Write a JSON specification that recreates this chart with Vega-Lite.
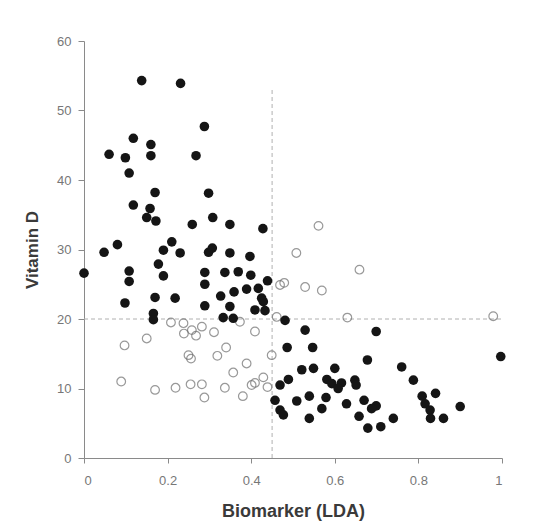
{
  "$schema": "https://vega.github.io/schema/vega-lite/v6.json",
  "autosize": "none",
  "width": 418,
  "height": 417,
  "padding": {"left": 84, "top": 41, "right": 40, "bottom": 65},
  "background": "white",
  "config": {
    "view": {"stroke": null},
    "font": "Liberation Sans",
    "axis": {
      "grid": false,
      "domainColor": "#8a8a8a",
      "tickColor": "#8a8a8a",
      "labelColor": "#777777",
      "labelFont": "Liberation Sans",
      "labelFontSize": 13,
      "titleFont": "Liberation Sans",
      "titleFontWeight": "bold",
      "titleColor": "#3a3a3a"
    }
  },
  "datasets": {
    "pts": [
      {"lda": 0.138, "vitd": 54.3, "group": "filled"},
      {"lda": 0.231, "vitd": 53.9, "group": "filled"},
      {"lda": 0.288, "vitd": 47.7, "group": "filled"},
      {"lda": 0.118, "vitd": 46.0, "group": "filled"},
      {"lda": 0.160, "vitd": 45.1, "group": "filled"},
      {"lda": 0.160, "vitd": 43.5, "group": "filled"},
      {"lda": 0.060, "vitd": 43.7, "group": "filled"},
      {"lda": 0.099, "vitd": 43.2, "group": "filled"},
      {"lda": 0.268, "vitd": 43.5, "group": "filled"},
      {"lda": 0.108, "vitd": 41.0, "group": "filled"},
      {"lda": 0.170, "vitd": 38.2, "group": "filled"},
      {"lda": 0.298, "vitd": 38.1, "group": "filled"},
      {"lda": 0.118, "vitd": 36.4, "group": "filled"},
      {"lda": 0.158, "vitd": 35.9, "group": "filled"},
      {"lda": 0.150, "vitd": 34.6, "group": "filled"},
      {"lda": 0.172, "vitd": 34.1, "group": "filled"},
      {"lda": 0.308, "vitd": 34.6, "group": "filled"},
      {"lda": 0.259, "vitd": 33.6, "group": "filled"},
      {"lda": 0.349, "vitd": 33.6, "group": "filled"},
      {"lda": 0.428, "vitd": 33.0, "group": "filled"},
      {"lda": 0.048, "vitd": 29.6, "group": "filled"},
      {"lda": 0.080, "vitd": 30.7, "group": "filled"},
      {"lda": 0.190, "vitd": 29.9, "group": "filled"},
      {"lda": 0.210, "vitd": 31.1, "group": "filled"},
      {"lda": 0.230, "vitd": 29.5, "group": "filled"},
      {"lda": 0.298, "vitd": 29.6, "group": "filled"},
      {"lda": 0.307, "vitd": 30.2, "group": "filled"},
      {"lda": 0.349, "vitd": 29.5, "group": "filled"},
      {"lda": 0.397, "vitd": 29.0, "group": "filled"},
      {"lda": 0.000, "vitd": 26.6, "group": "filled"},
      {"lda": 0.108, "vitd": 26.9, "group": "filled"},
      {"lda": 0.108, "vitd": 25.4, "group": "filled"},
      {"lda": 0.178, "vitd": 27.9, "group": "filled"},
      {"lda": 0.190, "vitd": 26.2, "group": "filled"},
      {"lda": 0.289, "vitd": 26.7, "group": "filled"},
      {"lda": 0.289, "vitd": 25.0, "group": "filled"},
      {"lda": 0.337, "vitd": 26.7, "group": "filled"},
      {"lda": 0.369, "vitd": 26.8, "group": "filled"},
      {"lda": 0.399, "vitd": 26.3, "group": "filled"},
      {"lda": 0.439, "vitd": 25.5, "group": "filled"},
      {"lda": 0.389, "vitd": 24.3, "group": "filled"},
      {"lda": 0.417, "vitd": 24.4, "group": "filled"},
      {"lda": 0.359, "vitd": 23.9, "group": "filled"},
      {"lda": 0.327, "vitd": 23.3, "group": "filled"},
      {"lda": 0.425, "vitd": 23.0, "group": "filled"},
      {"lda": 0.429, "vitd": 22.5, "group": "filled"},
      {"lda": 0.098, "vitd": 22.3, "group": "filled"},
      {"lda": 0.170, "vitd": 23.1, "group": "filled"},
      {"lda": 0.218, "vitd": 23.0, "group": "filled"},
      {"lda": 0.289, "vitd": 21.9, "group": "filled"},
      {"lda": 0.349, "vitd": 21.8, "group": "filled"},
      {"lda": 0.409, "vitd": 21.3, "group": "filled"},
      {"lda": 0.433, "vitd": 21.2, "group": "filled"},
      {"lda": 0.333, "vitd": 20.2, "group": "filled"},
      {"lda": 0.357, "vitd": 20.1, "group": "filled"},
      {"lda": 0.166, "vitd": 20.8, "group": "filled"},
      {"lda": 0.166, "vitd": 19.9, "group": "filled"},
      {"lda": 0.481, "vitd": 19.8, "group": "filled"},
      {"lda": 0.529, "vitd": 18.4, "group": "filled"},
      {"lda": 0.699, "vitd": 18.2, "group": "filled"},
      {"lda": 0.486, "vitd": 15.9, "group": "filled"},
      {"lda": 0.547, "vitd": 15.9, "group": "filled"},
      {"lda": 0.997, "vitd": 14.6, "group": "filled"},
      {"lda": 0.678, "vitd": 14.1, "group": "filled"},
      {"lda": 0.760, "vitd": 13.1, "group": "filled"},
      {"lda": 0.788, "vitd": 11.2, "group": "filled"},
      {"lda": 0.521, "vitd": 12.7, "group": "filled"},
      {"lda": 0.549, "vitd": 12.9, "group": "filled"},
      {"lda": 0.600, "vitd": 12.9, "group": "filled"},
      {"lda": 0.489, "vitd": 11.3, "group": "filled"},
      {"lda": 0.469, "vitd": 10.5, "group": "filled"},
      {"lda": 0.581, "vitd": 11.3, "group": "filled"},
      {"lda": 0.593, "vitd": 10.7, "group": "filled"},
      {"lda": 0.616, "vitd": 10.8, "group": "filled"},
      {"lda": 0.608, "vitd": 10.0, "group": "filled"},
      {"lda": 0.648, "vitd": 11.2, "group": "filled"},
      {"lda": 0.651, "vitd": 10.5, "group": "filled"},
      {"lda": 0.457, "vitd": 8.3, "group": "filled"},
      {"lda": 0.509, "vitd": 8.2, "group": "filled"},
      {"lda": 0.539, "vitd": 8.9, "group": "filled"},
      {"lda": 0.579, "vitd": 8.7, "group": "filled"},
      {"lda": 0.628, "vitd": 7.8, "group": "filled"},
      {"lda": 0.670, "vitd": 8.3, "group": "filled"},
      {"lda": 0.699, "vitd": 7.5, "group": "filled"},
      {"lda": 0.688, "vitd": 7.1, "group": "filled"},
      {"lda": 0.658, "vitd": 6.0, "group": "filled"},
      {"lda": 0.740, "vitd": 5.7, "group": "filled"},
      {"lda": 0.679, "vitd": 4.3, "group": "filled"},
      {"lda": 0.710, "vitd": 4.5, "group": "filled"},
      {"lda": 0.539, "vitd": 5.7, "group": "filled"},
      {"lda": 0.469, "vitd": 6.9, "group": "filled"},
      {"lda": 0.477, "vitd": 6.2, "group": "filled"},
      {"lda": 0.569, "vitd": 7.1, "group": "filled"},
      {"lda": 0.809, "vitd": 8.9, "group": "filled"},
      {"lda": 0.841, "vitd": 9.3, "group": "filled"},
      {"lda": 0.816, "vitd": 7.8, "group": "filled"},
      {"lda": 0.828, "vitd": 6.9, "group": "filled"},
      {"lda": 0.829, "vitd": 5.7, "group": "filled"},
      {"lda": 0.860, "vitd": 5.7, "group": "filled"},
      {"lda": 0.900, "vitd": 7.4, "group": "filled"},
      {"lda": 0.561, "vitd": 33.4, "group": "open"},
      {"lda": 0.508, "vitd": 29.5, "group": "open"},
      {"lda": 0.659, "vitd": 27.1, "group": "open"},
      {"lda": 0.529, "vitd": 24.6, "group": "open"},
      {"lda": 0.569, "vitd": 24.1, "group": "open"},
      {"lda": 0.630, "vitd": 20.2, "group": "open"},
      {"lda": 0.979, "vitd": 20.4, "group": "open"},
      {"lda": 0.469, "vitd": 24.9, "group": "open"},
      {"lda": 0.479, "vitd": 25.2, "group": "open"},
      {"lda": 0.461, "vitd": 20.3, "group": "open"},
      {"lda": 0.373, "vitd": 19.6, "group": "open"},
      {"lda": 0.409, "vitd": 18.2, "group": "open"},
      {"lda": 0.449, "vitd": 14.8, "group": "open"},
      {"lda": 0.208, "vitd": 19.5, "group": "open"},
      {"lda": 0.238, "vitd": 19.4, "group": "open"},
      {"lda": 0.258, "vitd": 18.4, "group": "open"},
      {"lda": 0.282, "vitd": 18.9, "group": "open"},
      {"lda": 0.239, "vitd": 17.9, "group": "open"},
      {"lda": 0.268, "vitd": 17.6, "group": "open"},
      {"lda": 0.311, "vitd": 18.1, "group": "open"},
      {"lda": 0.150, "vitd": 17.2, "group": "open"},
      {"lda": 0.097, "vitd": 16.2, "group": "open"},
      {"lda": 0.250, "vitd": 14.8, "group": "open"},
      {"lda": 0.256, "vitd": 14.3, "group": "open"},
      {"lda": 0.319, "vitd": 14.7, "group": "open"},
      {"lda": 0.340, "vitd": 15.9, "group": "open"},
      {"lda": 0.389, "vitd": 13.6, "group": "open"},
      {"lda": 0.357, "vitd": 12.3, "group": "open"},
      {"lda": 0.089, "vitd": 11.0, "group": "open"},
      {"lda": 0.170, "vitd": 9.8, "group": "open"},
      {"lda": 0.219, "vitd": 10.1, "group": "open"},
      {"lda": 0.255, "vitd": 10.6, "group": "open"},
      {"lda": 0.282, "vitd": 10.6, "group": "open"},
      {"lda": 0.288, "vitd": 8.7, "group": "open"},
      {"lda": 0.337, "vitd": 10.1, "group": "open"},
      {"lda": 0.380, "vitd": 8.9, "group": "open"},
      {"lda": 0.401, "vitd": 10.5, "group": "open"},
      {"lda": 0.409, "vitd": 10.8, "group": "open"},
      {"lda": 0.429, "vitd": 11.6, "group": "open"},
      {"lda": 0.439, "vitd": 10.2, "group": "open"}
    ],
    "refs": [
      {"lda": 0.45, "lda2": 0.45, "vitd": 0, "vitd2": 53},
      {"lda": 0, "lda2": 1, "vitd": 20, "vitd2": 20}
    ]
  },
  "layer": [
    {
      "data": {"name": "refs"},
      "mark": {"type": "rule", "color": "#b0b0b0", "strokeWidth": 1, "strokeDash": [4, 3]},
      "encoding": {
        "x": {"field": "lda", "type": "quantitative", "scale": {"domain": [0, 1], "nice": false},
          "axis": {"values": [0, 0.2, 0.4, 0.6, 0.8, 1], "format": ".1~f", "title": "Biomarker (LDA)", "titleFontSize": 18, "titlePadding": 15, "tickSize": 5, "labelPadding": 11}},
        "x2": {"field": "lda2"},
        "y": {"field": "vitd", "type": "quantitative", "scale": {"domain": [0, 60], "nice": false},
          "axis": {"values": [0, 10, 20, 30, 40, 50, 60], "title": "Vitamin D", "titleFontSize": 17, "titlePadding": 15, "tickSize": 6, "labelPadding": 7}},
        "y2": {"field": "vitd2"}
      }
    },
    {
      "data": {"name": "pts"},
      "transform": [{"filter": "datum.group === 'open'"}],
      "mark": {"type": "point", "shape": "circle", "filled": false, "stroke": "#6e6e6e", "strokeWidth": 1.2, "size": 75},
      "encoding": {
        "x": {"field": "lda", "type": "quantitative"},
        "y": {"field": "vitd", "type": "quantitative"}
      }
    },
    {
      "data": {"name": "pts"},
      "transform": [{"filter": "datum.group === 'filled'"}],
      "mark": {"type": "point", "shape": "circle", "filled": true, "fill": "#151515", "opacity": 1, "size": 92},
      "encoding": {
        "x": {"field": "lda", "type": "quantitative"},
        "y": {"field": "vitd", "type": "quantitative"}
      }
    }
  ]
}
